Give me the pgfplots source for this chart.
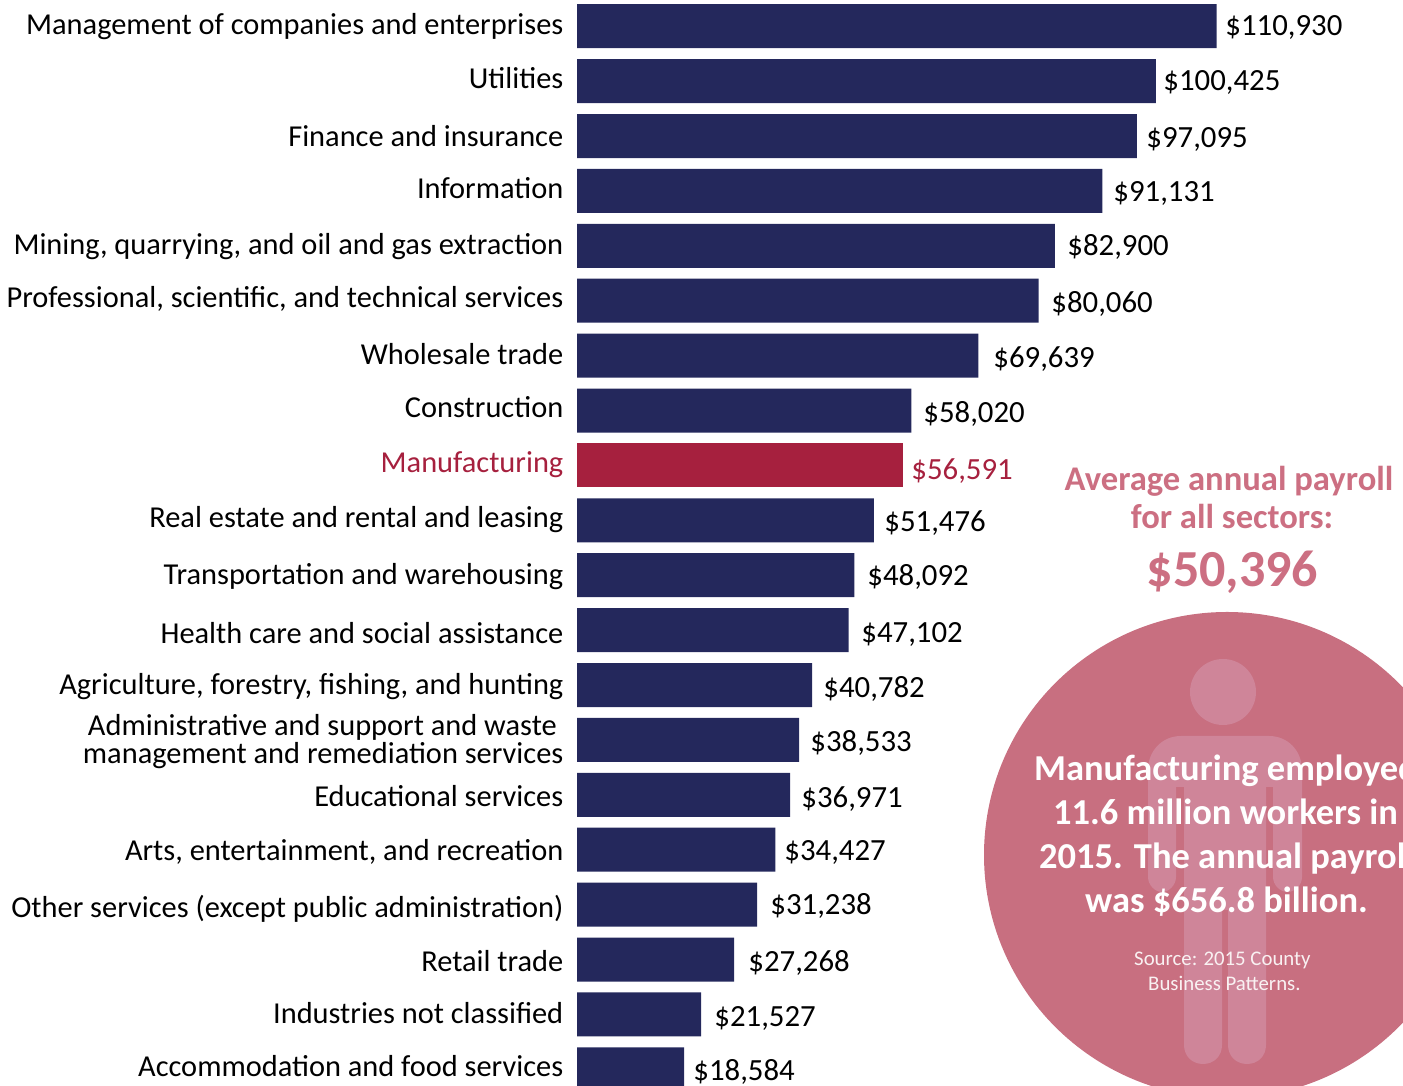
\documentclass[border=0pt]{standalone}
\usepackage{pgfplots}
\usepackage{pgfplotstable}
\usepackage{fontspec}
\pgfplotsset{compat=1.18}
\setmainfont{Carlito}
\definecolor{navybar}{HTML}{24285C}
\definecolor{redbar}{HTML}{A6203E}
\definecolor{rosedisc}{HTML}{C86F80}
\definecolor{rosefig}{HTML}{CF8599}
\definecolor{rosehead}{HTML}{CC6F82}

% Average annual payroll per employee, by sector
\pgfplotstableread{
idx value
0 110930
1 100425
2 97095
3 91131
4 82900
5 80060
6 69639
7 58020
9 51476
10 48092
11 47102
12 40782
13 38533
14 36971
15 34427
16 31238
17 27268
18 21527
19 18584
}\sectors
\pgfplotstableread{
idx value
8 56591
}\manufacturing

\newcommand{\cat}[3][black]{\node[anchor=base east,inner sep=0pt,text=#1,font=\fontsize{30.4}{30.4}\selectfont] at (563.5,#2) {#3};}
\newcommand{\val}[4][black]{\node[anchor=base west,inner sep=0pt,text=#1,font=\fontsize{30.8}{30.8}\selectfont,xshift=-0.8pt] at (#2,#3.5) {#4};}

\begin{document}
\begin{tikzpicture}
\path[use as bounding box,clip] (0,0) rectangle (1403pt,1086pt);

% Disc with the figure of a worker behind the text
\begin{scope}[shift={(0,1086pt)},x=1pt,y=-1pt]
\fill[rosedisc] (1227,855) circle[radius=243pt];
\fill[rosefig] (1223,692) circle[radius=33pt];
\fill[rosefig] (1148,770) .. controls (1148,751) and (1162,736) .. (1181,736)
  -- (1269,736) .. controls (1288,736) and (1302,751) .. (1302,770)
  -- (1302,877) .. controls (1302,885) and (1295,892) .. (1287.5,892)
  .. controls (1280,892) and (1273,885) .. (1273,877)
  -- (1273,787) -- (1266,787) -- (1266,1045)
  .. controls (1266,1056) and (1258,1064) .. (1247,1064)
  .. controls (1236,1064) and (1228,1056) .. (1228,1045)
  -- (1228,910) -- (1222,910) -- (1222,1045)
  .. controls (1222,1056) and (1214,1064) .. (1203,1064)
  .. controls (1192,1064) and (1184,1056) .. (1184,1045)
  -- (1184,787) -- (1176,787) -- (1176,877)
  .. controls (1176,885) and (1169,892) .. (1162,892)
  .. controls (1155,892) and (1148,885) .. (1148,877) -- cycle;
\end{scope}

\begin{axis}[
  at={(0,0)},anchor=south west,
  scale only axis,width=1403pt,height=1086pt,
  hide axis,
  xmin=-100087,xmax=143279,
  ymin=-0.4772,ymax=19.3042,
  y dir=reverse,
  clip=true,
]
\addplot[xbar,bar width=44pt,bar shift=0pt,fill=navybar,draw=none] table[x=value,y=idx] {\sectors};
\addplot[xbar,bar width=44pt,bar shift=0pt,fill=redbar,draw=none] table[x=value,y=idx] {\manufacturing};
\end{axis}

\begin{scope}[shift={(0,1086pt)},x=1pt,y=-1pt]
% Sector names
\cat{35}{Management of companies and enterprises}
\cat{89}{Utilities}
\cat{147}{Finance and insurance}
\cat{199}{Information}
\cat{255}{Mining, quarrying, and oil and gas extraction}
\cat{308}{Professional, scientific, and technical services}
\cat{365}{Wholesale trade}
\cat{418}{Construction}
\cat[redbar]{473}{Manufacturing}
\cat{528}{Real estate and rental and leasing}
\cat{585}{Transportation and warehousing}
\cat{644}{Health care and social assistance}
\cat{695}{Agriculture, forestry, fishing, and hunting}
\node[anchor=base east,inner sep=0pt,font=\fontsize{30.4}{30.4}\selectfont] at (557,736) {Administrative and support and waste};
\cat{764}{management and remediation services}
\cat{807}{Educational services}
\cat{861}{Arts, entertainment, and recreation}
\cat{918}{Other services (except public administration)}
\cat{972}{Retail trade}
\cat{1024}{Industries not classified}
\cat{1077}{Accommodation and food services}
% Payroll values
\val{1226}{35}{\$110,930}
\val{1164}{90}{\$100,425}
\val{1147}{147}{\$97,095}
\val{1114}{201}{\$91,131}
\val{1068}{255}{\$82,900}
\val{1052}{312}{\$80,060}
\val{994}{367}{\$69,639}
\val{924}{422}{\$58,020}
\val[redbar]{912}{479}{\$56,591}
\val{885}{531}{\$51,476}
\val{868}{585}{\$48,092}
\val{862}{642}{\$47,102}
\val{824}{697}{\$40,782}
\val{811}{751}{\$38,533}
\val{802}{807}{\$36,971}
\val{785}{860}{\$34,427}
\val{771}{914}{\$31,238}
\val{749}{971}{\$27,268}
\val{715}{1026}{\$21,527}
\val{694}{1080}{\$18,584}
% Sector average
\node[anchor=base,inner sep=0pt,text=rosehead,font=\fontsize{34.6}{34.6}\selectfont\bfseries] at (1229,491) {Average annual payroll};
\node[anchor=base,inner sep=0pt,text=rosehead,font=\fontsize{34.6}{34.6}\selectfont\bfseries] at (1232,529) {for all sectors:};
\node[anchor=base,inner sep=0pt,text=rosehead,font=\fontsize{52}{52}\selectfont\bfseries] at (1232.5,587) {\$50,396};
% Manufacturing summary
\node[anchor=base west,inner sep=0pt,text=white,font=\fontsize{36.5}{36.5}\selectfont\bfseries] at (1034,780.5) {Manufacturing employed};
\node[anchor=base west,inner sep=0pt,text=white,font=\fontsize{36.5}{36.5}\selectfont\bfseries] at (1053,824.5) {11.6 million workers in};
\node[anchor=base west,inner sep=0pt,text=white,font=\fontsize{36.5}{36.5}\selectfont\bfseries] at (1039,868.5) {2015. The annual payroll};
\node[anchor=base west,inner sep=0pt,text=white,font=\fontsize{36.5}{36.5}\selectfont\bfseries] at (1085,912.5) {was \$656.8 billion.};
\node[anchor=base west,inner sep=0pt,text=white!90!rosedisc,font=\fontsize{20.8}{20.8}\selectfont] at (1134,966) {Source: 2015 County};
\node[anchor=base west,inner sep=0pt,text=white!90!rosedisc,font=\fontsize{20.8}{20.8}\selectfont] at (1148,991) {Business Patterns.};
\end{scope}
\end{tikzpicture}
\end{document}
